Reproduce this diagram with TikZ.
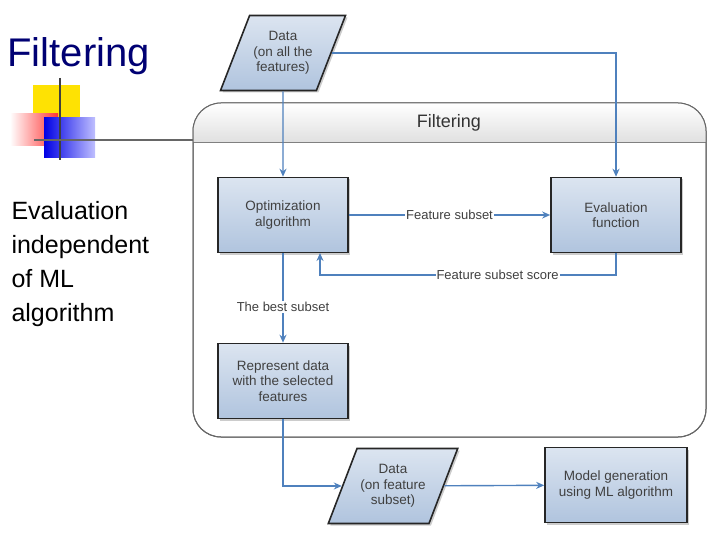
\documentclass[tikz,border=0pt]{standalone}
\usepackage{fontspec}
\setmainfont{Liberation Sans}
\usetikzlibrary{shapes.geometric,arrows.meta,shadows}
\definecolor{boxblue}{RGB}{176,196,222}
\definecolor{arrblue}{RGB}{79,129,189}
\tikzset{
  blk/.style={shape=rectangle, draw=black!85, line width=1.6pt, top color=boxblue!45, bottom color=boxblue,
    align=center, text=black!75, font=\fontsize{13.5}{15.5}\selectfont, minimum width=130pt, minimum height=75pt,
    drop shadow={shadow xshift=2pt, shadow yshift=-2pt, opacity=.4}},
  dat/.style={blk, trapezium, trapezium left angle=60, trapezium right angle=120, minimum width=125pt,
    trapezium stretches=true},
  arr/.style={arrblue, line width=1.4pt, -{Stealth[length=8pt,width=7pt]}},
  lbl/.style={fill=white, inner sep=1pt, text=black!75, font=\fontsize{13}{15}\selectfont},
}
\begin{document}
\begin{tikzpicture}[x=1pt,y=-1pt]
\useasboundingbox (0,0) rectangle (720,540);
% decoration
\fill[yellow!85!orange] (33,85) rectangle (80,126);
\shade[left color=white, right color=red!80] (10,114) rectangle (58,146);
\shade[left color=blue!90!black, right color=blue!25] (44,118) rectangle (95,158);
\draw[black!75, line width=1.5pt] (60,78) -- (60,160);
\draw[black!60, line width=1.5pt] (34,140) -- (195,140);
\node[anchor=west, text=blue!45!black, font=\fontsize{40}{44}\selectfont] (title) at (4,56) {Filtering};
\node[anchor=north west, align=left, font=\fontsize{25}{34}\selectfont] (note) at (8,198)
  {Evaluation\\independent\\of ML\\algorithm};
% filtering frame
\draw[black!60, line width=1pt, rounded corners=28pt, fill=white] (193,103) rectangle (706,437);
\begin{scope}
\clip[rounded corners=28pt] (193,103) rectangle (706,437);
\shade[top color=white, bottom color=black!12] (193,103) rectangle (706,142);
\end{scope}
\draw[black!50] (193,142) -- (706,142);
\draw[black!60, line width=1pt, rounded corners=28pt] (193,103) rectangle (706,437);
\node[font=\fontsize{18}{20}\selectfont, text=black!80] (ftitle) at (449,123) {Filtering};
% nodes
\node[dat] (d1) at (283,53) {Data\\(on all the\\features)};
\node[blk] (opt) at (283,215) {Optimization\\algorithm};
\node[blk] (eval) at (616,215) {Evaluation\\function};
\node[blk] (rep) at (283,381) {Represent data\\with the selected\\features};
\node[dat, minimum width=105pt] (d2) at (393,486) {Data\\(on feature\\subset)};
\node[blk, minimum width=142pt] (mod) at (616,485) {Model generation\\using ML algorithm};
% connectors
\draw[arr] (d1) -- (opt);
\draw[arr] (d1.east) -| (eval.north);
\draw[arr] (opt) -- node[lbl] {Feature subset} (eval);
\draw[arr] (eval.south) |- node[lbl, pos=0.7] {Feature subset score} (320,275) -- (320,253);
\draw[arr] (opt) -- node[lbl, pos=0.6] {The best subset} (rep);
\draw[arr] (rep.south) |- (d2.west);
\draw[arr] (d2) -- (mod);
\end{tikzpicture}
\end{document}
